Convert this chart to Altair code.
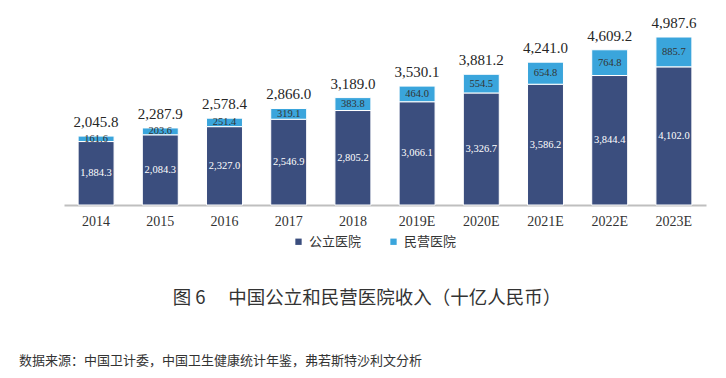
import altair as alt
import pandas as pd

years = ["2014", "2015", "2016", "2017", "2018", "2019E", "2020E", "2021E", "2022E", "2023E"]
public = [1884.3, 2084.3, 2327.0, 2546.9, 2805.2, 3066.1, 3326.7, 3586.2, 3844.4, 4102.0]
private = [161.6, 203.6, 251.4, 319.1, 383.8, 464.0, 554.5, 654.8, 764.8, 885.7]
totals = [2045.8, 2287.9, 2578.4, 2866.0, 3189.0, 3530.1, 3881.2, 4241.0, 4609.2, 4987.6]
series = ["公立医院", "民营医院"]
title_text = "图\u00a06\u3000\u00a0中国公立和民营医院收入（十亿人民币）"
source_text = "数据来源：中国卫计委，中国卫生健康统计年鉴，弗若斯特沙利文分析"

rows = []
for i, y in enumerate(years):
    rows.append({"year": y, "type": series[0], "value": public[i], "ord": 0})
    rows.append({"year": y, "type": series[1], "value": private[i], "ord": 1})
df = pd.DataFrame(rows)
tot = pd.DataFrame({"year": years, "total": totals})

SERIF = "Liberation Serif"
CJK = "Noto Sans CJK SC"

xscale = alt.Scale(domain=years, paddingInner=0.44, paddingOuter=0.22)
xaxis = alt.Axis(labelFont=SERIF, labelFontSize=14, labelColor="#333333",
                 labelAngle=0, ticks=False, domainColor="#bfbfbf",
                 domainWidth=2, labelPadding=9, grid=False)
xenc = alt.X("year:N", sort=years, title=None, scale=xscale, axis=xaxis)
yscale = alt.Scale(domain=[0, 5790], nice=False)

base = alt.Chart(df)

bars = base.mark_bar(stroke="white", strokeWidth=1).encode(
    x=xenc,
    y=alt.Y("value:Q", stack="zero", scale=yscale, axis=None),
    color=alt.Color("type:N", scale=alt.Scale(domain=series, range=["#3b4e7e", "#3aa5dc"]),
                    legend=alt.Legend(title=None, orient="none", direction="horizontal",
                                      legendX=228, legendY=225, symbolType="square",
                                      symbolSize=40, symbolStrokeWidth=0,
                                      labelFont=CJK, labelFontSize=13, labelColor="#333333",
                                      columnPadding=25, labelOffset=4)),
    order=alt.Order("ord:Q"),
)

stacked = base.transform_stack(
    stack="value", groupby=["year"], as_=["y0", "y1"], sort=[alt.SortField("ord")]
).transform_calculate(mid="(datum.y0 + datum.y1) / 2")

lab_pub = stacked.transform_filter(alt.datum.ord == 0).mark_text(
    font=SERIF, fontSize=10.5, color="white", baseline="middle"
).encode(x=xenc, y=alt.Y("mid:Q", scale=yscale, axis=None),
         text=alt.Text("value:Q", format=",.1f"))

lab_pri = stacked.transform_filter(alt.datum.ord == 1).mark_text(
    font=SERIF, fontSize=10.5, color="#333333", baseline="middle"
).encode(x=xenc, y=alt.Y("mid:Q", scale=yscale, axis=None),
         text=alt.Text("value:Q", format=",.1f"))

lab_tot = alt.Chart(tot).mark_text(
    font=SERIF, fontSize=15, color="#262626", baseline="bottom", dy=-6
).encode(x=xenc, y=alt.Y("total:Q", scale=yscale, axis=None),
         text=alt.Text("total:Q", format=",.1f"))

title_mark = alt.Chart(pd.DataFrame({"t": [title_text]})).mark_text(
    font=CJK, fontSize=18.5, color="#333333", align="center", baseline="middle"
).encode(x=alt.value(303), y=alt.value(288), text="t:N")

source_mark = alt.Chart(pd.DataFrame({"t": [source_text]})).mark_text(
    font=CJK, fontSize=13, color="#333333", align="left", baseline="middle"
).encode(x=alt.value(-45), y=alt.value(351), text="t:N")

chart = alt.layer(bars, lab_pub, lab_pri, lab_tot, title_mark, source_mark).properties(
    width=642, height=195,
    background="white",
    autosize=alt.AutoSizeParams(type="none"),
    padding={"left": 56, "top": 2, "right": 12, "bottom": 163},
).configure_view(stroke=None).configure_axis(grid=False)

chart.save("out.html", embed_options={"renderer": "svg", "actions": False})
